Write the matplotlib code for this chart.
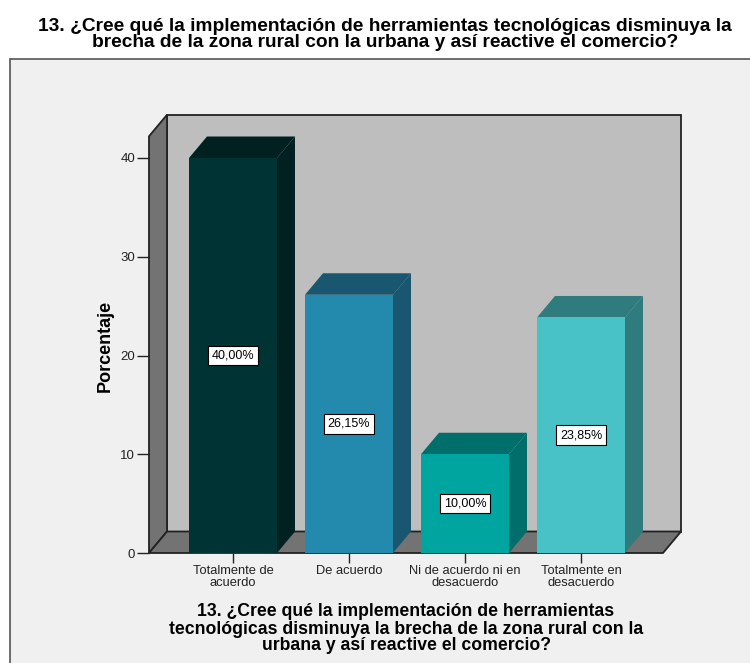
import matplotlib
matplotlib.use('Agg')
from matplotlib import pyplot as plt
from matplotlib.patches import Polygon, Rectangle

categories = ['Totalmente de\nacuerdo', 'De acuerdo', 'Ni de acuerdo ni en\ndesacuerdo', 'Totalmente en\ndesacuerdo']
values = [40.00, 26.15, 10.00, 23.85]
value_labels = ['40,00%', '26,15%', '10,00%', '23,85%']
yticks = [0, 10, 20, 30, 40]
front_colors = ['#003333', '#248aad', '#00a5a0', '#48c2c6']
side_colors = ['#012020', '#19566f', '#006e6a', '#2f7b7d']
top_colors = ['#012020', '#19566f', '#006e6a', '#2f7b7d']

title = '13. ¿Cree qué la implementación de herramientas tecnológicas disminuya la\nbrecha de la zona rural con la urbana y así reactive el comercio?'
xlabel = '13. ¿Cree qué la implementación de herramientas\ntecnológicas disminuya la brecha de la zona rural con la\nurbana y así reactive el comercio?'

W, H = 750, 663
plt.rcParams['font.family'] = ['Liberation Sans', 'DejaVu Sans']

fig = plt.figure(figsize=(W / 100, H / 100), dpi=100, facecolor='white')

# grey panel behind the chart, in pixels
fig.add_artist(Rectangle((9.5 / W, -0.01), 0.99, (H - 59) / H + 0.01, transform=fig.transFigure,
                         facecolor='#f0f0f0', edgecolor='#555555', linewidth=1.2, zorder=-1))

# axes cover the front plane of the 3d box
ax = fig.add_axes([149 / W, (H - 553) / H, 514 / W, 395 / H])
ax.set_xlim(-0.724, 3.707)
ax.set_ylim(0, 40)
ax.patch.set_alpha(0)
for s in ax.spines.values():
    s.set_visible(False)

dx = 18 / 116
dy = 21.5 / 9.875
x0, x1 = ax.get_xlim()
ytop = 42.2

# walls
ax.add_patch(Polygon([(x0 + dx, dy), (x1 + dx, dy), (x1 + dx, ytop + dy), (x0 + dx, ytop + dy)], closed=True,
                     facecolor='#bebebe', edgecolor='#222222', linewidth=1.3, clip_on=False))
ax.add_patch(Polygon([(x0, 0), (x0 + dx, dy), (x0 + dx, ytop + dy), (x0, ytop)], closed=True,
                     facecolor='#737373', edgecolor='#222222', linewidth=1.3, clip_on=False))
ax.add_patch(Polygon([(x0, 0), (x1, 0), (x1 + dx, dy), (x0 + dx, dy)], closed=True,
                     facecolor='#737373', edgecolor='#222222', linewidth=1.3, clip_on=False))

width = 88 / 116
for i, v in enumerate(values):
    l, r = i - width / 2, i + width / 2
    ax.add_patch(Polygon([(r, 0), (r + dx, dy), (r + dx, v + dy), (r, v)], closed=True,
                         facecolor=side_colors[i], edgecolor='none', clip_on=False, zorder=3))
    ax.add_patch(Polygon([(l, v), (r, v), (r + dx, v + dy), (l + dx, v + dy)], closed=True,
                         facecolor=top_colors[i], edgecolor='none', clip_on=False, zorder=3))
    ax.bar(i, v, width=width, color=front_colors[i], zorder=4)
    ax.text(i, v / 2, value_labels[i], ha='center', va='center', fontsize=9, color='black', zorder=5,
            bbox=dict(boxstyle='square,pad=0.3', facecolor='white', edgecolor='black', linewidth=0.8))

ax.set_xticks(range(len(categories)))
ax.set_xticklabels(categories, fontsize=9.3, linespacing=0.95, color='#222222')
ax.set_yticks(yticks)
ax.tick_params(axis='x', length=7, width=1, pad=2, color='#222222')
ax.tick_params(axis='y', length=9, width=1, pad=1, labelsize=9.5, color='#222222', labelcolor='#222222')

fig.text(105 / W, 1 - 346 / H, 'Porcentaje', rotation=90, ha='center', va='center', fontsize=13, fontweight='bold')
fig.text(385 / W, 1 - 34.5 / H, title, ha='center', va='center', fontsize=13.8, fontweight='bold', linespacing=0.85)
fig.text(406 / W, 1 - 629 / H, xlabel, ha='center', va='center', fontsize=12.7, fontweight='bold', linespacing=1.0)

fig.savefig('out.png', dpi=100)
